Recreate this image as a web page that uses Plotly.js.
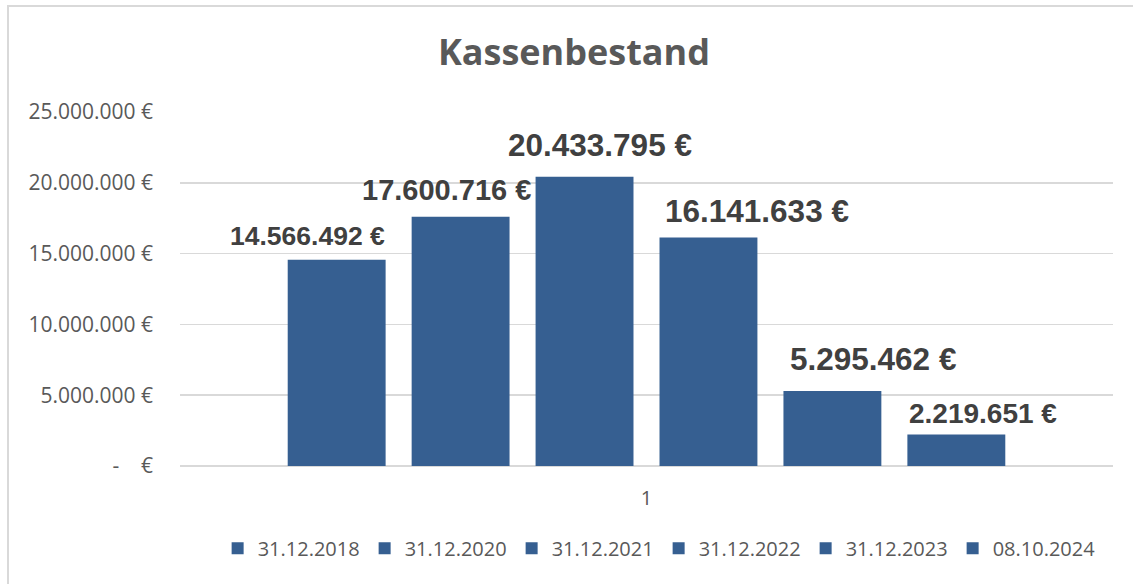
<!DOCTYPE html>
<html>
<head>
<meta charset="utf-8">
<script src="https://cdn.plot.ly/plotly-3.0.1.min.js"></script>
<style>
  html, body { margin: 0; padding: 0; background: #fff; }
  #wrap { position: relative; width: 1133px; height: 584px; }
  #chart { width: 1133px; height: 584px; }
  #frame { position: absolute; left: 7px; top: 5px; width: 1200px; height: 700px;
           border-left: 2px solid #d9d9d9; border-top: 2px solid #d9d9d9; pointer-events: none; }
</style>
</head>
<body>
<div id="wrap">
  <div id="chart"></div>
  <div id="frame"></div>
</div>
<script>
// ---- data ----
const categories = ["1"];
const seriesNames = ["31.12.2018", "31.12.2020", "31.12.2021", "31.12.2022", "31.12.2023", "08.10.2024"];
const values = [14566492, 17600716, 20433795, 16141633, 5295462, 2219651];
const yTickValues = [0, 5000000, 10000000, 15000000, 20000000, 25000000];

// ---- styling (not data) ----
const barColor = "#365f91";
const labelSizes = [26.5, 29, 31.5, 31.5, 31.5, 28];
const labelDx = [-29, -14.5, 15, 49, 41, 27];
const labelDy = [24, 26.5, 32, 26, 32, 21.5];
const bargap = 0.203, bargroupgap = 0.21;

function fmtEuro(v) {
  if (v === 0) return "-\u00a0\u00a0\u00a0\u00a0€";
  return String(v).replace(/\B(?=(\d{3})+(?!\d))/g, ".") + " €";
}

const traces = seriesNames.map((name, i) => ({
  type: "bar",
  name: name,
  x: categories,
  y: [values[i]],
  marker: { color: barColor },
  hoverinfo: "skip"
}));

const n = seriesNames.length;
const slot = (1 - bargap) / n;
const annotations = values.map((v, i) => ({
  xref: "x", yref: "y",
  x: (i - (n - 1) / 2) * slot,
  y: v,
  text: fmtEuro(v),
  showarrow: false,
  xanchor: "center", yanchor: "middle",
  xshift: labelDx[i], yshift: labelDy[i],
  font: { family: "Liberation Sans, Arial, sans-serif", size: labelSizes[i], color: "#404040", weight: "bold" }
}));

const layout = {
  width: 1133, height: 584,
  margin: { l: 180, r: 20, t: 112, b: 118, autoexpand: false },
  paper_bgcolor: "#ffffff",
  plot_bgcolor: "#ffffff",
  barmode: "group",
  bargap: bargap,
  bargroupgap: bargroupgap,
  font: { family: "Open Sans, sans-serif", color: "#595959" },
  title: {
    text: "<b>Kassenbestand</b>",
    xref: "container", yref: "container",
    x: 0.5066, y: 0.911, xanchor: "center", yanchor: "middle",
    font: { family: "Open Sans, sans-serif", size: 36, color: "#595959" }
  },
  xaxis: {
    type: "category",
    showgrid: false, showline: false, zeroline: false,
    ticks: "", ticklabelstandoff: 18,
    tickfont: { size: 20, color: "#595959" }
  },
  yaxis: {
    range: [0, 25000000],
    tickvals: yTickValues,
    ticktext: yTickValues.map(fmtEuro),
    showgrid: true, gridcolor: "#d9d9d9", gridwidth: 1.5,
    zeroline: true, zerolinecolor: "#d9d9d9", zerolinewidth: 1.5,
    showline: false,
    ticks: "", ticklabelstandoff: 26,
    tickfont: { size: 21, color: "#595959" }
  },
  showlegend: true,
  legend: {
    orientation: "h",
    x: 0.513, xanchor: "center",
    y: -0.232, yanchor: "middle",
    entrywidth: 102, entrywidthmode: "pixels",
    itemwidth: 30,
    font: { size: 20, color: "#595959" },
    traceorder: "normal"
  },
  annotations: annotations
};

Plotly.newPlot("chart", traces, layout, { displayModeBar: false, staticPlot: true });
</script>
</body>
</html>
